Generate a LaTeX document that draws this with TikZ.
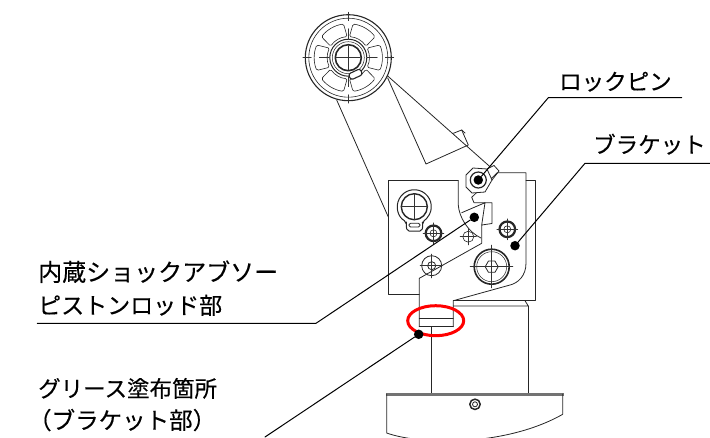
\documentclass[tikz,border=0pt]{standalone}
\usepackage{fontspec}
\setmainfont[RawFeature={embolden=0.3}]{Noto Sans CJK JP}
\tikzset{
	part/.style={draw=black!85,line width=0.8pt},
	thinpart/.style={draw=black!80,line width=0.45pt},
	leader/.style={draw=black,line width=1pt},
	dot/.style={circle,fill=black,inner sep=0pt,minimum size=9.5pt},
	callout/.style={anchor=base west,inner sep=0pt,font=\fontsize{22.5}{24}\selectfont},
	screw/.pic={
		\draw[part,line width=2.2pt] (0,0) circle (7.8);
		\draw[part,line width=0.6pt] (0,0) circle (3.5);
		\draw[thinpart] (-10.5,0)--(10.5,0) (0,-10.5)--(0,10.5);
	}
}
\begin{document}
\begin{tikzpicture}[x=1pt,y=-1pt,line join=round,line cap=round]
	\useasboundingbox (0,0) rectangle (710,437);
	% wheel
	\begin{scope}[shift={(348.3,57.7)}]
		\draw[part,line width=1.1pt] (0,0) circle (43);
		\draw[part,line width=0.6pt] (0,0) circle (39.5);
		\draw[part,line width=1pt] (0,0) circle (18.5);
		\draw[part,line width=0.5pt] (0,0) circle (16);
		\draw[part,line width=1.6pt] (0,0) circle (13);
		\foreach \a in {0,60,...,300}
			\draw[part,line width=0.6pt,rounded corners=1.5pt] (\a-27:21) arc[start angle=\a-27,end angle=\a+27,radius=21]
				-- (\a+22:34) arc[start angle=\a+22,end angle=\a-22,radius=34] -- cycle;
		\foreach \a in {0,90,180,270}
			\draw[thinpart] (\a:37)--(\a:45.5) (\a:19)--(\a:29) (\a:0)--(\a:12);
	\end{scope}
	\draw[part,line width=1.1pt,fill=white,rounded corners=2.5pt,rotate around={25:(355.7,74.3)}] (349,71) rectangle (362,77.5);
	% arm
	\draw[part] (336.7,100)--(388.3,217);
	\draw[part] (387.7,76)--(490,166.7);
	\draw[part] (387.7,78)--(426,164)--(468.3,145)--(461.7,130)--(453.3,133.3);
	\draw[part] (461.7,130)--(465,133);
	% blocks
	\draw[part] (526,180.7)--(535,180.7)--(535,300.7)--(453.3,300.7);
	\draw[part] (458.3,180.7)--(388.3,180.7)--(388.3,294.3)--(419.3,294.3);
	\draw[part] (458.3,180.7)--(458.3,205) .. controls (459,217) and (468,232) .. (481,238);
	% bracket
	\draw[part] (419.3,326.7)--(419.3,278.3)--(481.7,243.3)--(481.7,225)--(492,223.5)--(492,202.7)--(474,202.7)--(471.7,197.3)--(497.3,172.7)--(526,172.7)--(526,263) .. controls (526,276) and (518,283) .. (510,285)--(453.3,300.7)--(453.3,326.7);
	\draw[part] (461.7,212.7)--(485,202.7)--(481.7,225);
	\draw[part] (419.3,318.3)--(453.3,318.3) (419.3,326.5)--(453.3,326.5);
	\draw[part] (453.3,306)--(528.3,306) (525,300.7)--(528.3,306);
	% column and base
	\draw[part] (431.7,326.5)--(431.7,394) (528.3,306)--(528.3,394);
	\draw[draw=black!55,line width=3pt,line cap=butt] (386,394)--(563.5,394);
	\draw[part] (386.7,394)--(386.7,433) .. controls (420,445) and (505,447) .. (562.7,414.3)--(562.7,394);
	\draw[part,line width=1.5pt] (475,404.3) circle (5.2);
	\draw[part] (475,404.3) circle (2.5);
	% snap ring
	\draw[part,line width=1pt,rounded corners=2pt] (414.3,206.7) ++(118:17) arc[start angle=118,end angle=422,radius=17]
		-- (423,224)--(422,231)--(407,231)--(406,224)--cycle;
	\draw[part,line width=1.4pt] (414.3,206.7) circle (13);
	\draw[thinpart] (401,206.7)--(428,206.7) (414.3,194)--(414.3,220);
	\draw[part,rounded corners=1.5pt] (409,223.3) rectangle (420,227);
	% screws
	\pic at (433.5,233.3) {screw};
	\pic at (507.3,229.3) {screw};
	\draw[part,line width=0.6pt] (468.3,236.7) circle (5.5);
	\draw[thinpart] (460,236.7)--(476.5,236.7) (468.3,228.5)--(468.3,245);
	\draw[part] (431.7,265.7) circle (10);
	\draw[part] (431.7,265.7) circle (4);
	\draw[thinpart] (420,265.7)--(443,265.7) (431.7,254)--(431.7,278);
	\draw[part,line width=1.6pt] (491.7,266.7) circle (17.5);
	\draw[part,line width=0.5pt] (491.7,266.7) circle (15);
	\draw[part,shift={(491.7,266.7)}] (0:6.5)--(60:6.5)--(120:6.5)--(180:6.5)--(240:6.5)--(300:6.5)--cycle;
	\draw[thinpart] (470,266.7)--(513,266.7) (491.7,245)--(491.7,288);
	% lock pin
	\draw[part,fill=white] (466,175)--(473,168)--(487,169)--(492,180)--(485,192)--(472,193)--(466,187)--cycle;
	\draw[part] (487,169)--(494,165.5)--(499,171)--(492,180);
	\draw[part,line width=1.2pt] (478.3,180) circle (8);
	% red ring
	\draw[red,line width=3pt] (435.7,320.7) ellipse (28 and 15);
	% labels
	\node[callout] (lockpin) at (559,90) {ロックピン};
	\node[callout] (bracket) at (593,153) {ブラケット};
	\node[callout,font=\fontsize{24}{24}\selectfont] (absorber) at (38,281) {内蔵ショックアブソー};
	\node[callout,font=\fontsize{23}{24}\selectfont] (rod) at (38,314) {ピストンロッド部};
	\node[callout] (grease) at (38,397) {グリース塗布箇所};
	\node[callout,font=\fontsize{23.5}{24}\selectfont] (greasepart) at (28,429) {（ブラケット部）};
	% leaders
	\node[dot] (lockdot) at (478.3,180) {};
	\node[dot] (roddot) at (474.3,217.3) {};
	\node[dot] (bracketdot) at (515,245.7) {};
	\node[dot] (greasedot) at (418.7,334.3) {};
	\coordinate (lockbend) at (548.3,97.7);
	\coordinate (lockend) at (681.7,97.7);
	\coordinate (bracketbend) at (585,163.3);
	\coordinate (bracketend) at (710,163.3);
	\coordinate (rodbend) at (316,323.3);
	\coordinate (rodend) at (37.3,323.3);
	\coordinate (greaseend) at (265,437);
	\draw[leader] (lockdot)--(lockbend)--(lockend);
	\draw[leader] (bracketdot)--(bracketbend)--(bracketend);
	\draw[leader] (roddot)--(rodbend)--(rodend);
	\draw[leader] (greasedot)--(greaseend);
\end{tikzpicture}
\end{document}
